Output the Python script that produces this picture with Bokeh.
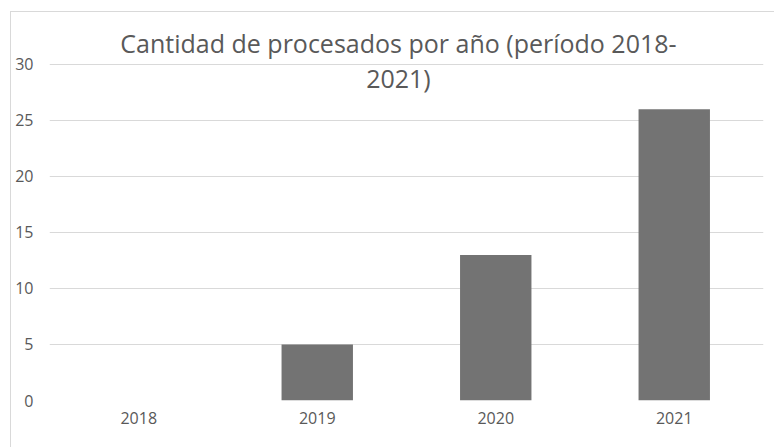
from bokeh.plotting import figure
from bokeh.models import FixedTicker, Range1d, Label, ColumnDataSource
from bokeh.embed import file_html
from bokeh.resources import INLINE

years = ["2018", "2019", "2020", "2021"]
counts = [0, 5, 13, 26]
y_ticks = [0, 5, 10, 15, 20, 25, 30]
title_line1 = "Cantidad de procesados por año (período 2018-"
title_line2 = "2021)"

FONT = "Open Sans"
TXT = "#595959"
GRID = "#d9d9d9"

src = ColumnDataSource(data=dict(years=years, counts=counts))

p = figure(x_range=years, y_range=Range1d(0, 33.66), width=764, height=436,
           output_backend="svg", toolbar_location=None,
           margin=(11, 0, 0, 10),
           min_border_left=38, min_border_right=12, min_border_top=11, min_border_bottom=48,
           styles={"border-top": "1px solid #d9d9d9", "border-left": "1px solid #d9d9d9"})

p.vbar(x="years", top="counts", width=0.4, source=src, fill_color="#737373", line_color=None)

p.outline_line_color = None
p.background_fill_color = "white"
p.border_fill_color = "white"

p.xgrid.grid_line_color = None
p.ygrid.grid_line_color = GRID
p.ygrid.grid_line_width = 1
p.yaxis.ticker = FixedTicker(ticks=y_ticks)

for ax in (p.xaxis, p.yaxis):
    ax.axis_line_color = None
    ax.major_tick_line_color = None
    ax.minor_tick_line_color = None
    ax.major_label_text_font = FONT
    ax.major_label_text_font_size = "16px"
    ax.major_label_text_color = TXT

p.yaxis.major_label_standoff = 10
p.xaxis.major_label_standoff = 5

p.add_layout(Label(x=1.955, y=31.96, text=title_line1, text_align="center",
                   text_baseline="alphabetic", text_font=FONT, text_font_size="25px",
                   text_color=TXT))
p.add_layout(Label(x=1.955, y=28.76, text=title_line2, text_align="center",
                   text_baseline="alphabetic", text_font=FONT, text_font_size="25px",
                   text_color=TXT))

open("out.html", "w").write(file_html(p, INLINE))
